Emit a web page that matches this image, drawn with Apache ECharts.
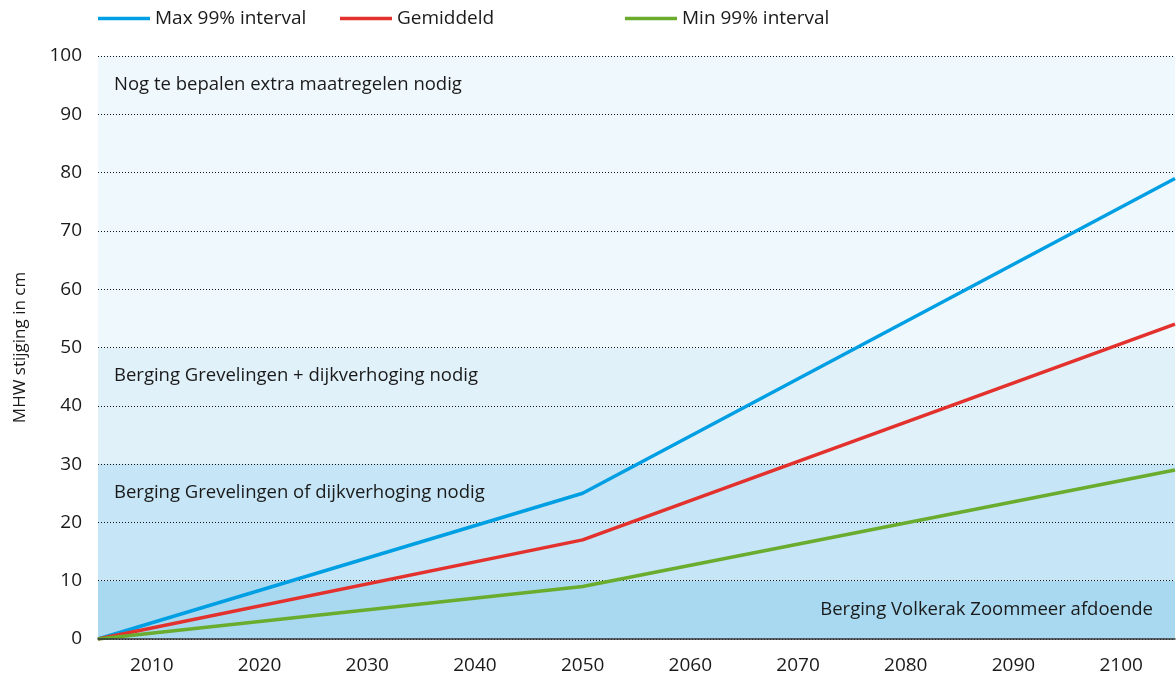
<!DOCTYPE html>
<html>
<head>
<meta charset="utf-8">
<script src="https://cdn.jsdelivr.net/npm/echarts@6/dist/echarts.min.js"></script>
<style>
html,body{margin:0;padding:0;background:#fff;}
#chart{width:1176px;height:679px;}
</style>
</head>
<body>
<div id="chart"></div>
<script>
// Data
const years = [2005, 2050, 2105];
const maxInterval = [0, 25, 79];
const gemiddeld = [0, 17, 54];
const minInterval = [0, 9, 29];
const xTickLabels = [2010, 2020, 2030, 2040, 2050, 2060, 2070, 2080, 2090, 2100];
const seriesNames = ['Max 99% interval', 'Gemiddeld', 'Min 99% interval'];
const bandBounds = [[0, 10], [10, 30], [30, 50], [50, 100]];
const bandLabels = ['Berging Volkerak Zoommeer afdoende', 'Berging Grevelingen of dijkverhoging nodig', 'Berging Grevelingen + dijkverhoging nodig', 'Nog te bepalen extra maatregelen nodig'];

const FONT = '"Open Sans", sans-serif';
const FS = 19;
const bandColors = ['#a8d9f1', '#c6e5f6', '#e1f1fa', '#eff8fd'];
const lineColors = ['#009fe3', '#e3312d', '#6aac2d'];

const zip = (xs, ys) => xs.map((x, i) => [x, ys[i]]);

const markAreaData = bandBounds.map((b, i) => {
  const right = i === 0;
  return [{
    yAxis: b[0],
    itemStyle: { color: bandColors[i] },
    label: {
      show: true,
      position: right ? 'insideTopRight' : 'insideTopLeft',
      distance: 0,
      offset: right ? [-22, 20] : [16, 19],
      color: '#1a1a1a',
      fontFamily: FONT,
      fontSize: 18.5,
      formatter: bandLabels[i]
    }
  }, { yAxis: b[1] }];
});

const lineSeries = [maxInterval, gemiddeld, minInterval].map((vals, i) => ({
  name: seriesNames[i],
  type: 'line',
  data: zip(years, vals),
  symbol: 'none',
  lineStyle: { width: 3.5, color: lineColors[i] },
  itemStyle: { color: lineColors[i] },
  z: 5
}));

const bgSeries = {
  name: 'bands',
  type: 'line',
  data: [],
  silent: true,
  z: 1,
  markArea: { silent: true, data: markAreaData }
};

const legendLefts = [98, 340, 625];
const legends = seriesNames.map((n, i) => ({
  data: [n],
  left: legendLefts[i],
  top: 9,
  padding: 0,
  icon: 'rect',
  itemWidth: 52,
  itemHeight: 3.5,
  itemGap: 5,
  textStyle: { fontFamily: FONT, fontSize: FS, color: '#1a1a1a', padding: [0, 0, 0, 0] },
  selectedMode: false
}));

const chart = echarts.init(document.getElementById('chart'));
chart.setOption({
  animation: false,
  backgroundColor: '#ffffff',
  legend: legends,
  grid: { left: 98, right: 1, top: 56, bottom: 40, containLabel: false },
  xAxis: {
    type: 'value',
    min: 2005,
    max: 2105,
    z: 6,
    axisLine: { show: true, onZero: false, lineStyle: { color: '#333', width: 1.5 } },
    axisTick: { show: false },
    splitLine: { show: false },
    axisLabel: {
      customValues: xTickLabels,
      fontFamily: FONT,
      fontSize: FS,
      color: '#1a1a1a',
      margin: 17,
      formatter: v => String(v)
    }
  },
  yAxis: {
    type: 'value',
    min: 0,
    max: 100,
    interval: 10,
    z: 3,
    name: 'MHW stijging in cm',
    nameLocation: 'middle',
    nameGap: 69,
    nameRotate: 90,
    nameTextStyle: { fontFamily: FONT, fontSize: 17, color: '#1a1a1a' },
    axisLine: { show: false },
    axisTick: { show: false },
    axisLabel: { fontFamily: FONT, fontSize: FS, color: '#1a1a1a', margin: 16 },
    splitLine: {
      show: true,
      lineStyle: { color: '#111', width: 1, type: [1, 2] }
    }
  },
  series: [bgSeries].concat(lineSeries)
});
</script>
</body>
</html>
